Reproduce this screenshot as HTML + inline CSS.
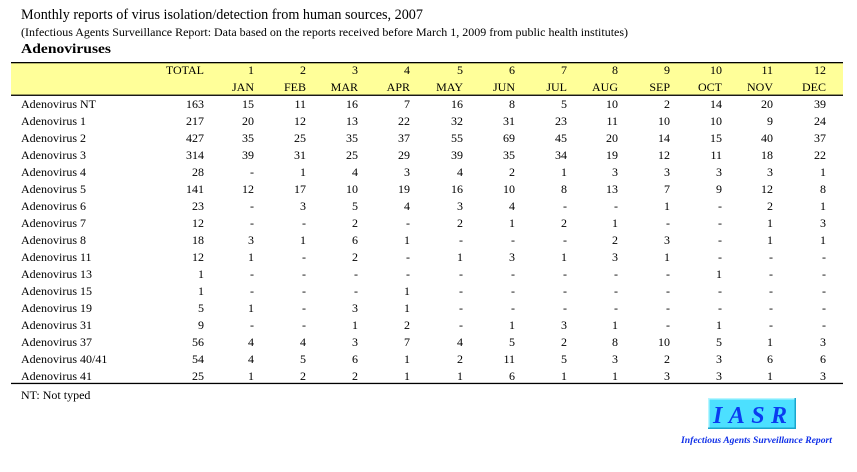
<!DOCTYPE html>
<html><head><meta charset="utf-8"><style>
html,body{margin:0;padding:0;background:#fff;}
svg{display:block;}
text{font-family:"Liberation Serif",serif;fill:#000;}
.n{font-size:12px;text-anchor:end;}
.l{font-size:12px;}
</style></head><body>
<svg width="857" height="472" viewBox="0 0 857 472" xmlns="http://www.w3.org/2000/svg">
<rect width="857" height="472" fill="#fff"/>
<text x="21" y="19" font-size="15" textLength="402" lengthAdjust="spacingAndGlyphs">Monthly reports of virus isolation/detection from human sources, 2007</text>
<text x="21" y="36" font-size="12" textLength="607" lengthAdjust="spacingAndGlyphs">(Infectious Agents Surveillance Report: Data based on the reports received before March 1, 2009 from public health institutes)</text>
<text x="21" y="53" font-size="14" font-weight="bold" textLength="90" lengthAdjust="spacingAndGlyphs">Adenoviruses</text>
<rect x="11" y="63" width="832" height="32" fill="#FFFF99"/>
<rect x="11" y="62" width="832" height="1.3" fill="#000"/>
<rect x="11" y="94.6" width="832" height="1.3" fill="#000"/>
<rect x="11" y="382.8" width="832" height="1.3" fill="#000"/>
<g class="hdr">
<text class="n" x="204" y="74">TOTAL</text>
<text class="n" x="254" y="74">1</text><text class="n" x="306" y="74">2</text><text class="n" x="358" y="74">3</text><text class="n" x="410" y="74">4</text><text class="n" x="463" y="74">5</text><text class="n" x="515" y="74">6</text><text class="n" x="567" y="74">7</text><text class="n" x="618" y="74">8</text><text class="n" x="670" y="74">9</text><text class="n" x="722" y="74">10</text><text class="n" x="773" y="74">11</text><text class="n" x="826" y="74">12</text>
<text class="n" x="254" y="91">JAN</text><text class="n" x="306" y="91">FEB</text><text class="n" x="358" y="91">MAR</text><text class="n" x="410" y="91">APR</text><text class="n" x="463" y="91">MAY</text><text class="n" x="515" y="91">JUN</text><text class="n" x="567" y="91">JUL</text><text class="n" x="618" y="91">AUG</text><text class="n" x="670" y="91">SEP</text><text class="n" x="722" y="91">OCT</text><text class="n" x="773" y="91">NOV</text><text class="n" x="826" y="91">DEC</text>
</g>
<g>
<text class="l" x="21" y="108">Adenovirus NT</text>
<text class="n" x="204" y="108">163</text><text class="n" x="254" y="108">15</text><text class="n" x="306" y="108">11</text><text class="n" x="358" y="108">16</text><text class="n" x="410" y="108">7</text><text class="n" x="463" y="108">16</text><text class="n" x="515" y="108">8</text><text class="n" x="567" y="108">5</text><text class="n" x="618" y="108">10</text><text class="n" x="670" y="108">2</text><text class="n" x="722" y="108">14</text><text class="n" x="773" y="108">20</text><text class="n" x="826" y="108">39</text>

<text class="l" x="21" y="125">Adenovirus 1</text>
<text class="n" x="204" y="125">217</text><text class="n" x="254" y="125">20</text><text class="n" x="306" y="125">12</text><text class="n" x="358" y="125">13</text><text class="n" x="410" y="125">22</text><text class="n" x="463" y="125">32</text><text class="n" x="515" y="125">31</text><text class="n" x="567" y="125">23</text><text class="n" x="618" y="125">11</text><text class="n" x="670" y="125">10</text><text class="n" x="722" y="125">10</text><text class="n" x="773" y="125">9</text><text class="n" x="826" y="125">24</text>

<text class="l" x="21" y="142">Adenovirus 2</text>
<text class="n" x="204" y="142">427</text><text class="n" x="254" y="142">35</text><text class="n" x="306" y="142">25</text><text class="n" x="358" y="142">35</text><text class="n" x="410" y="142">37</text><text class="n" x="463" y="142">55</text><text class="n" x="515" y="142">69</text><text class="n" x="567" y="142">45</text><text class="n" x="618" y="142">20</text><text class="n" x="670" y="142">14</text><text class="n" x="722" y="142">15</text><text class="n" x="773" y="142">40</text><text class="n" x="826" y="142">37</text>

<text class="l" x="21" y="159">Adenovirus 3</text>
<text class="n" x="204" y="159">314</text><text class="n" x="254" y="159">39</text><text class="n" x="306" y="159">31</text><text class="n" x="358" y="159">25</text><text class="n" x="410" y="159">29</text><text class="n" x="463" y="159">39</text><text class="n" x="515" y="159">35</text><text class="n" x="567" y="159">34</text><text class="n" x="618" y="159">19</text><text class="n" x="670" y="159">12</text><text class="n" x="722" y="159">11</text><text class="n" x="773" y="159">18</text><text class="n" x="826" y="159">22</text>

<text class="l" x="21" y="176">Adenovirus 4</text>
<text class="n" x="204" y="176">28</text><text class="n" x="254" y="176">-</text><text class="n" x="306" y="176">1</text><text class="n" x="358" y="176">4</text><text class="n" x="410" y="176">3</text><text class="n" x="463" y="176">4</text><text class="n" x="515" y="176">2</text><text class="n" x="567" y="176">1</text><text class="n" x="618" y="176">3</text><text class="n" x="670" y="176">3</text><text class="n" x="722" y="176">3</text><text class="n" x="773" y="176">3</text><text class="n" x="826" y="176">1</text>

<text class="l" x="21" y="193">Adenovirus 5</text>
<text class="n" x="204" y="193">141</text><text class="n" x="254" y="193">12</text><text class="n" x="306" y="193">17</text><text class="n" x="358" y="193">10</text><text class="n" x="410" y="193">19</text><text class="n" x="463" y="193">16</text><text class="n" x="515" y="193">10</text><text class="n" x="567" y="193">8</text><text class="n" x="618" y="193">13</text><text class="n" x="670" y="193">7</text><text class="n" x="722" y="193">9</text><text class="n" x="773" y="193">12</text><text class="n" x="826" y="193">8</text>

<text class="l" x="21" y="210">Adenovirus 6</text>
<text class="n" x="204" y="210">23</text><text class="n" x="254" y="210">-</text><text class="n" x="306" y="210">3</text><text class="n" x="358" y="210">5</text><text class="n" x="410" y="210">4</text><text class="n" x="463" y="210">3</text><text class="n" x="515" y="210">4</text><text class="n" x="567" y="210">-</text><text class="n" x="618" y="210">-</text><text class="n" x="670" y="210">1</text><text class="n" x="722" y="210">-</text><text class="n" x="773" y="210">2</text><text class="n" x="826" y="210">1</text>

<text class="l" x="21" y="227">Adenovirus 7</text>
<text class="n" x="204" y="227">12</text><text class="n" x="254" y="227">-</text><text class="n" x="306" y="227">-</text><text class="n" x="358" y="227">2</text><text class="n" x="410" y="227">-</text><text class="n" x="463" y="227">2</text><text class="n" x="515" y="227">1</text><text class="n" x="567" y="227">2</text><text class="n" x="618" y="227">1</text><text class="n" x="670" y="227">-</text><text class="n" x="722" y="227">-</text><text class="n" x="773" y="227">1</text><text class="n" x="826" y="227">3</text>

<text class="l" x="21" y="244">Adenovirus 8</text>
<text class="n" x="204" y="244">18</text><text class="n" x="254" y="244">3</text><text class="n" x="306" y="244">1</text><text class="n" x="358" y="244">6</text><text class="n" x="410" y="244">1</text><text class="n" x="463" y="244">-</text><text class="n" x="515" y="244">-</text><text class="n" x="567" y="244">-</text><text class="n" x="618" y="244">2</text><text class="n" x="670" y="244">3</text><text class="n" x="722" y="244">-</text><text class="n" x="773" y="244">1</text><text class="n" x="826" y="244">1</text>

<text class="l" x="21" y="261">Adenovirus 11</text>
<text class="n" x="204" y="261">12</text><text class="n" x="254" y="261">1</text><text class="n" x="306" y="261">-</text><text class="n" x="358" y="261">2</text><text class="n" x="410" y="261">-</text><text class="n" x="463" y="261">1</text><text class="n" x="515" y="261">3</text><text class="n" x="567" y="261">1</text><text class="n" x="618" y="261">3</text><text class="n" x="670" y="261">1</text><text class="n" x="722" y="261">-</text><text class="n" x="773" y="261">-</text><text class="n" x="826" y="261">-</text>

<text class="l" x="21" y="278">Adenovirus 13</text>
<text class="n" x="204" y="278">1</text><text class="n" x="254" y="278">-</text><text class="n" x="306" y="278">-</text><text class="n" x="358" y="278">-</text><text class="n" x="410" y="278">-</text><text class="n" x="463" y="278">-</text><text class="n" x="515" y="278">-</text><text class="n" x="567" y="278">-</text><text class="n" x="618" y="278">-</text><text class="n" x="670" y="278">-</text><text class="n" x="722" y="278">1</text><text class="n" x="773" y="278">-</text><text class="n" x="826" y="278">-</text>

<text class="l" x="21" y="295">Adenovirus 15</text>
<text class="n" x="204" y="295">1</text><text class="n" x="254" y="295">-</text><text class="n" x="306" y="295">-</text><text class="n" x="358" y="295">-</text><text class="n" x="410" y="295">1</text><text class="n" x="463" y="295">-</text><text class="n" x="515" y="295">-</text><text class="n" x="567" y="295">-</text><text class="n" x="618" y="295">-</text><text class="n" x="670" y="295">-</text><text class="n" x="722" y="295">-</text><text class="n" x="773" y="295">-</text><text class="n" x="826" y="295">-</text>

<text class="l" x="21" y="312">Adenovirus 19</text>
<text class="n" x="204" y="312">5</text><text class="n" x="254" y="312">1</text><text class="n" x="306" y="312">-</text><text class="n" x="358" y="312">3</text><text class="n" x="410" y="312">1</text><text class="n" x="463" y="312">-</text><text class="n" x="515" y="312">-</text><text class="n" x="567" y="312">-</text><text class="n" x="618" y="312">-</text><text class="n" x="670" y="312">-</text><text class="n" x="722" y="312">-</text><text class="n" x="773" y="312">-</text><text class="n" x="826" y="312">-</text>

<text class="l" x="21" y="329">Adenovirus 31</text>
<text class="n" x="204" y="329">9</text><text class="n" x="254" y="329">-</text><text class="n" x="306" y="329">-</text><text class="n" x="358" y="329">1</text><text class="n" x="410" y="329">2</text><text class="n" x="463" y="329">-</text><text class="n" x="515" y="329">1</text><text class="n" x="567" y="329">3</text><text class="n" x="618" y="329">1</text><text class="n" x="670" y="329">-</text><text class="n" x="722" y="329">1</text><text class="n" x="773" y="329">-</text><text class="n" x="826" y="329">-</text>

<text class="l" x="21" y="346">Adenovirus 37</text>
<text class="n" x="204" y="346">56</text><text class="n" x="254" y="346">4</text><text class="n" x="306" y="346">4</text><text class="n" x="358" y="346">3</text><text class="n" x="410" y="346">7</text><text class="n" x="463" y="346">4</text><text class="n" x="515" y="346">5</text><text class="n" x="567" y="346">2</text><text class="n" x="618" y="346">8</text><text class="n" x="670" y="346">10</text><text class="n" x="722" y="346">5</text><text class="n" x="773" y="346">1</text><text class="n" x="826" y="346">3</text>

<text class="l" x="21" y="363">Adenovirus 40/41</text>
<text class="n" x="204" y="363">54</text><text class="n" x="254" y="363">4</text><text class="n" x="306" y="363">5</text><text class="n" x="358" y="363">6</text><text class="n" x="410" y="363">1</text><text class="n" x="463" y="363">2</text><text class="n" x="515" y="363">11</text><text class="n" x="567" y="363">5</text><text class="n" x="618" y="363">3</text><text class="n" x="670" y="363">2</text><text class="n" x="722" y="363">3</text><text class="n" x="773" y="363">6</text><text class="n" x="826" y="363">6</text>

<text class="l" x="21" y="380">Adenovirus 41</text>
<text class="n" x="204" y="380">25</text><text class="n" x="254" y="380">1</text><text class="n" x="306" y="380">2</text><text class="n" x="358" y="380">2</text><text class="n" x="410" y="380">1</text><text class="n" x="463" y="380">1</text><text class="n" x="515" y="380">6</text><text class="n" x="567" y="380">1</text><text class="n" x="618" y="380">1</text><text class="n" x="670" y="380">3</text><text class="n" x="722" y="380">3</text><text class="n" x="773" y="380">1</text><text class="n" x="826" y="380">3</text>
</g>
<text class="l" x="21" y="399">NT: Not typed</text>

<!-- IASR logo -->
<rect x="708" y="398" width="88" height="31" fill="#4CE0FF"/>
<rect x="708" y="398" width="88" height="1.5" fill="#B8F6FF"/>
<rect x="708" y="398" width="1.5" height="31" fill="#B8F6FF"/>
<rect x="708" y="427.5" width="88" height="1.5" fill="#1AA6CC"/>
<rect x="794.5" y="398" width="1.5" height="31" fill="#1AA6CC"/>
<text x="713" y="423" font-size="24" font-weight="bold" font-style="italic" style="fill:#0A3CF0" textLength="74" lengthAdjust="spacing">IASR</text>
<text x="681" y="443" font-size="9" font-weight="bold" font-style="italic" style="fill:#1030E8" textLength="151" lengthAdjust="spacingAndGlyphs">Infectious Agents Surveillance Report</text>
</svg>
</body></html>
